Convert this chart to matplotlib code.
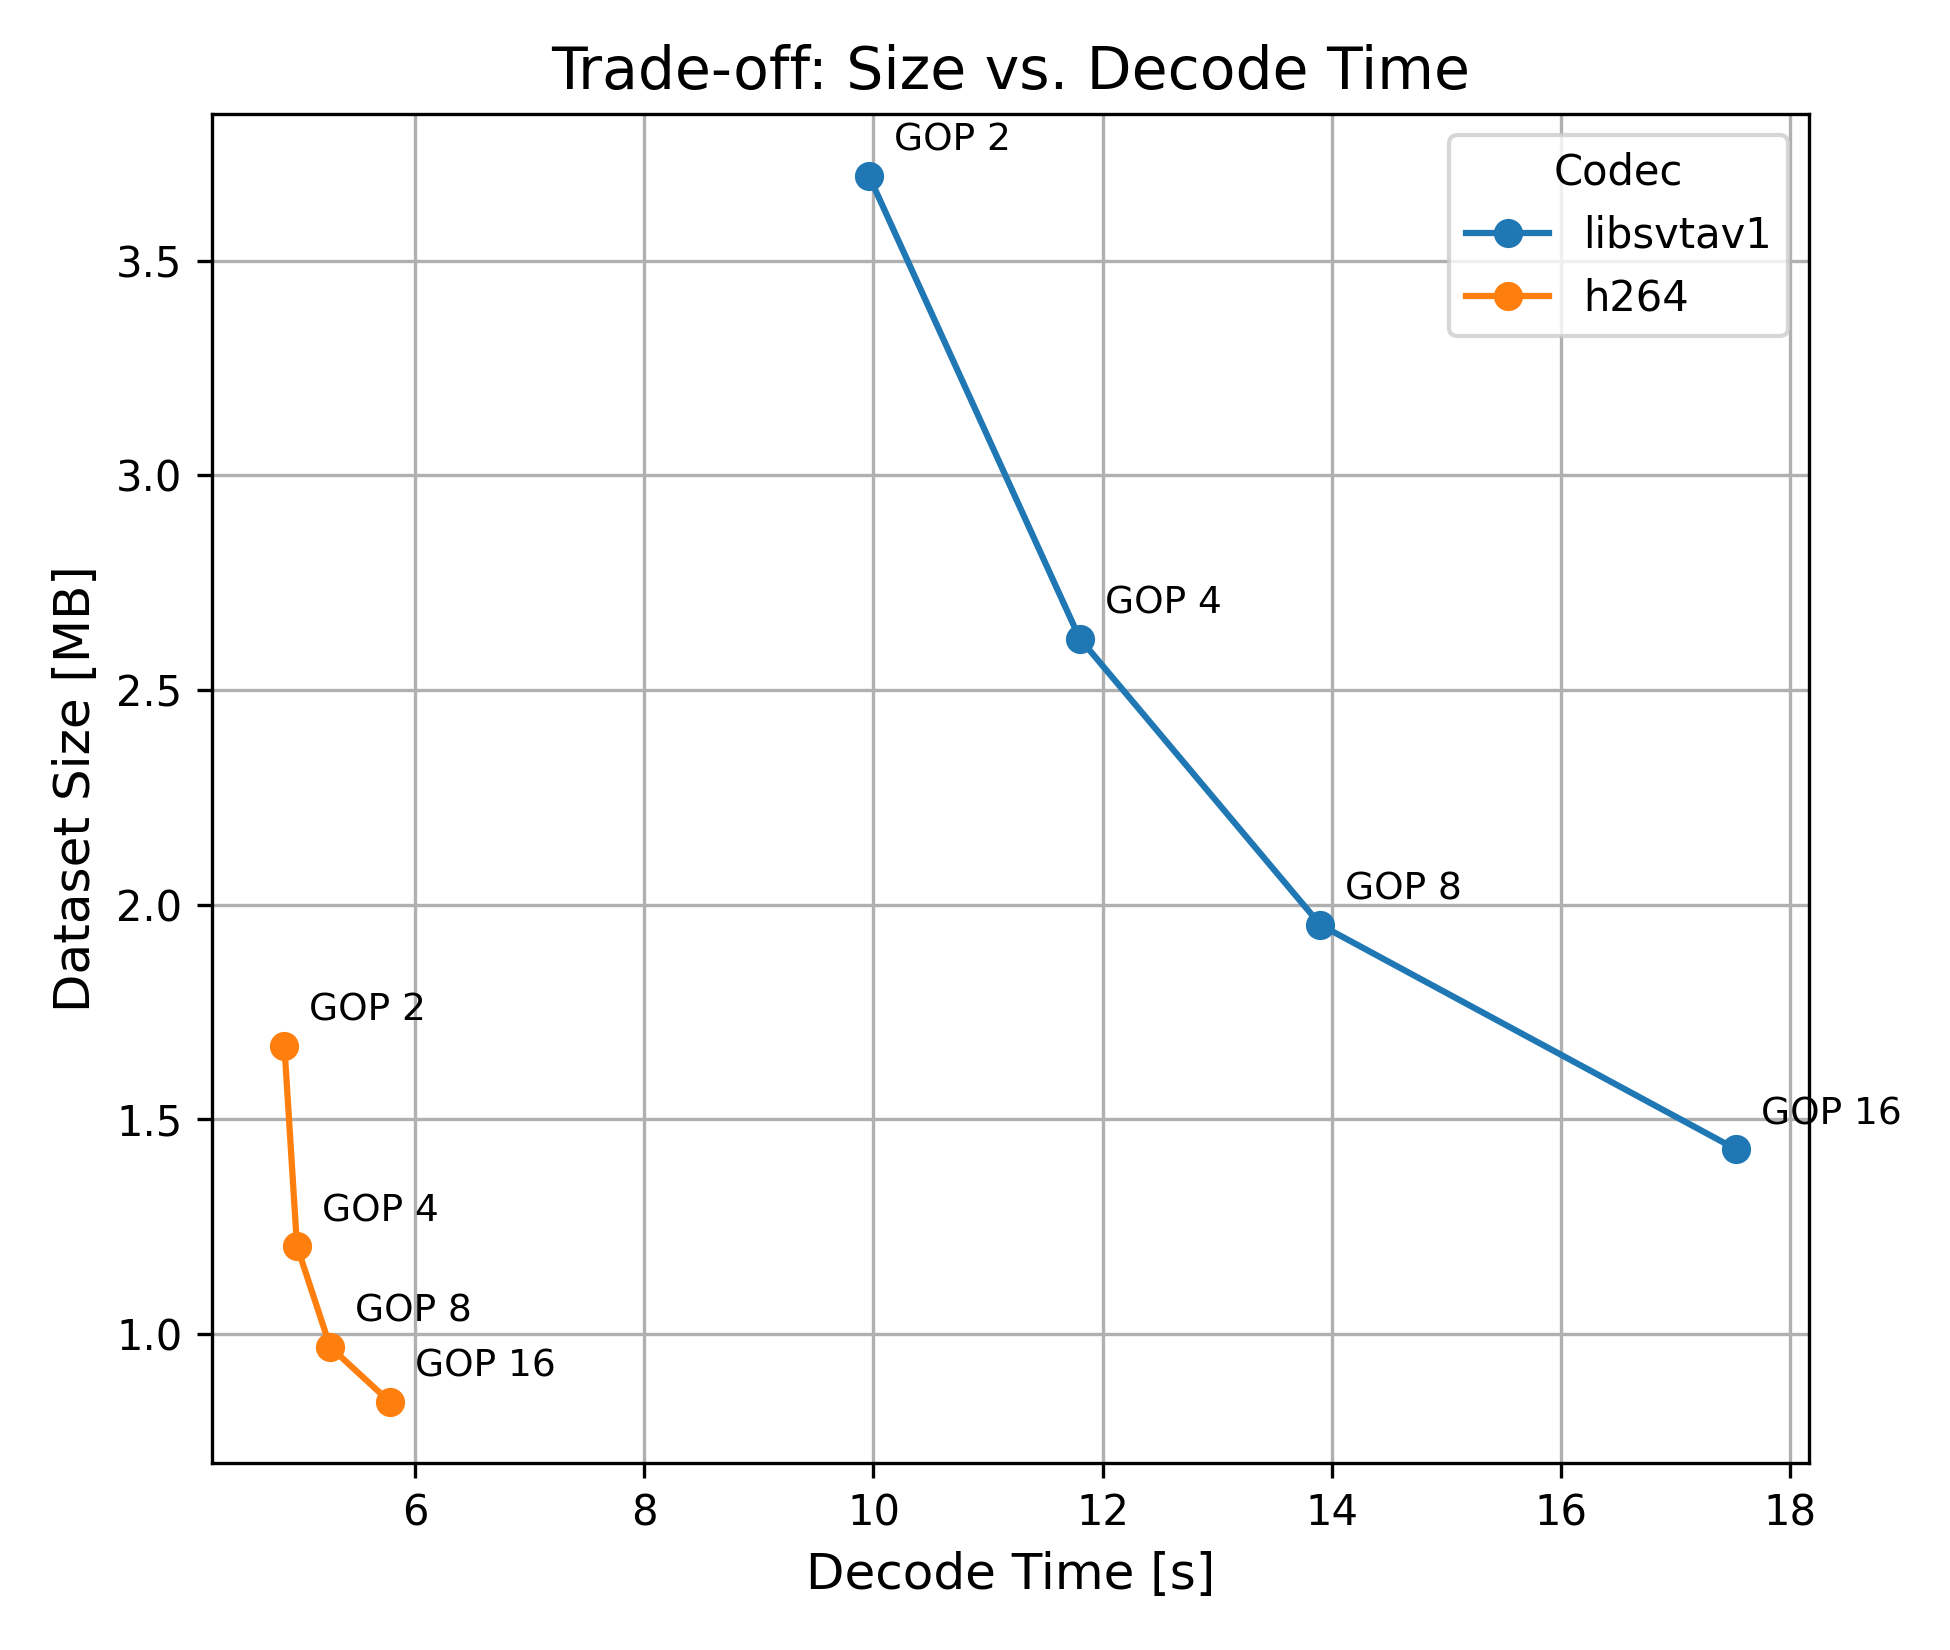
import matplotlib
matplotlib.use("Agg")
import matplotlib.pyplot as plt

gop_labels = ["GOP 2", "GOP 4", "GOP 8", "GOP 16"]
codecs = ["libsvtav1", "h264"]
av1_time = [9.96, 11.80, 13.90, 17.53]
av1_size = [3.698, 2.620, 1.953, 1.430]
h264_time = [4.86, 4.97, 5.26, 5.78]
h264_size = [1.672, 1.205, 0.970, 0.842]

fig, ax = plt.subplots(figsize=(6.5, 5.5), dpi=300)
for name, xs, ys in [(codecs[0], av1_time, av1_size), (codecs[1], h264_time, h264_size)]:
    ax.plot(xs, ys, marker="o", label=name)
    for lab, x, y in zip(gop_labels, xs, ys):
        ax.annotate(lab, (x, y), xytext=(6, 6), textcoords="offset points", fontsize=9)

ax.set_title("Trade-off: Size vs. Decode Time", fontsize=14)
ax.set_xlabel("Decode Time [s]", fontsize=12)
ax.set_ylabel("Dataset Size [MB]", fontsize=12)
ax.grid(True)
ax.legend(title="Codec")
fig.subplots_adjust(left=0.1086, right=0.9277, bottom=0.1132, top=0.9307)
fig.savefig("out.png", dpi=300)
